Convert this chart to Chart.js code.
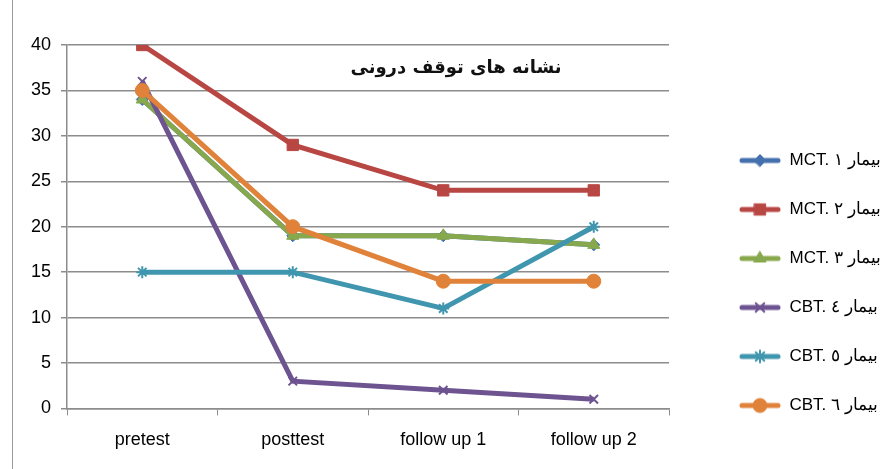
<!DOCTYPE html>
<html lang="en">
<head>
  <meta charset="UTF-8">
  <title>نشانه های توقف درونی</title>
  <script src="https://cdn.jsdelivr.net/npm/chart.js"></script>
  <style>
    html, body { margin: 0; padding: 0; background: #fff; }
    .wrap { position: relative; width: 890px; height: 469px; }
    .frame-line { position: absolute; left: 12px; top: 0; width: 1px; height: 469px; background: #9a9a9a; }
    .chart-title {
      position: absolute; left: 256px; width: 400px; top: 56px;
      text-align: center; font: bold 18px "DejaVu Sans", sans-serif; color: #111;
      direction: rtl; white-space: nowrap;
    }
  </style>
</head>
<body>
  <div class="wrap">
    <div class="frame-line"></div>
    <canvas id="chart" width="890" height="469"></canvas>
    <div class="chart-title">نشانه های توقف درونی</div>
  </div>

  <script>
    // Data
    const stages = ['pretest', 'posttest', 'follow up 1', 'follow up 2'];
    const seriesNames = ['MCT. بیمار ١', 'MCT. بیمار ٢', 'MCT. بیمار ٣', 'CBT. بیمار ٤', 'CBT. بیمار ٥', 'CBT. بیمار ٦'];
    const patient1 = [34, 19, 19, 18];
    const patient2 = [40, 29, 24, 24];
    const patient3 = [34, 19, 19, 18];
    const patient4 = [36, 3, 2, 1];
    const patient5 = [15, 15, 11, 20];
    const patient6 = [35, 20, 14, 14];
    const yTicks = [0, 5, 10, 15, 20, 25, 30, 35, 40];

    // Styles
    const colors = ['#4471AE', '#B84744', '#88A84D', '#6D5390', '#3F96AE', '#E0823A'];
    const markers = ['rectRot', 'rect', 'triangle', 'crossRot', 'star', 'circle'];
    const radii = [6, 8, 7, 6, 6, 7];
    const allData = [patient1, patient2, patient3, patient4, patient5, patient6];

    const datasets = allData.map((d, i) => ({
      label: seriesNames[i],
      data: d,
      borderColor: colors[i],
      backgroundColor: colors[i],
      borderWidth: 5,
      pointStyle: markers[i],
      pointRadius: radii[i],
      pointBorderWidth: (markers[i] === 'crossRot' || markers[i] === 'star') ? 2 : 1,
      pointBorderColor: colors[i],
      pointBackgroundColor: colors[i],
      tension: 0,
      order: allData.length - i
    }));

    // legend icons: short line with the marker in the middle (left part kept empty as a gap)
    const iconGap = 38;
    function legendIcon(i) {
      const c = document.createElement('canvas');
      c.width = iconGap + 42; c.height = 18;
      const ctx = c.getContext('2d');
      ctx.strokeStyle = colors[i];
      ctx.lineWidth = 5;
      ctx.lineCap = 'round';
      ctx.beginPath(); ctx.moveTo(iconGap + 3, 9); ctx.lineTo(iconGap + 39, 9); ctx.stroke();
      ctx.fillStyle = colors[i];
      ctx.lineWidth = (markers[i] === 'crossRot' || markers[i] === 'star') ? 2 : 1;
      Chart.helpers.drawPoint(ctx, { pointStyle: markers[i], radius: radii[i], rotation: 0, borderWidth: ctx.lineWidth }, iconGap + 21, 9);
      return c;
    }
    const icons = colors.map((_, i) => legendIcon(i));

    const tickFont = { family: '"Liberation Sans", sans-serif', size: 18 };

    new Chart(document.getElementById('chart'), {
      type: 'line',
      data: { labels: stages, datasets: datasets },
      options: {
        responsive: false,
        animation: false,
        layout: { padding: { left: 21, top: 45, right: 0, bottom: 4 } },
        scales: {
          x: {
            offset: true,
            grid: { offset: true, drawOnChartArea: false, color: '#8c8c8c', tickLength: 7 },
            border: { color: '#8c8c8c', width: 1.5 },
            ticks: { color: '#000', font: tickFont, padding: 14, maxRotation: 0 }
          },
          y: {
            min: 0, max: 40,
            afterBuildTicks: (axis) => { axis.ticks = yTicks.map(v => ({ value: v })); },
            grid: { color: '#8c8c8c', lineWidth: 1.5, tickLength: 6 },
            border: { color: '#8c8c8c', width: 1.5 },
            ticks: { color: '#000', font: tickFont, padding: 10 }
          }
        },
        plugins: {
          title: { display: false },
          tooltip: { enabled: false },
          legend: {
            position: 'right',
            align: 'start',
            maxWidth: 221,
            title: { display: true, text: ' ', font: { size: 10 }, padding: { top: 63, bottom: 0 } },
            labels: {
              usePointStyle: true,
              pointStyleWidth: iconGap + 42,
              padding: 32,
              color: '#000',
              font: { family: '"Liberation Sans", sans-serif', size: 17 },
              sort: (a, b) => a.datasetIndex - b.datasetIndex,
              generateLabels: (chart) => {
                const items = Chart.defaults.plugins.legend.labels.generateLabels(chart);
                items.forEach(it => { it.pointStyle = icons[it.datasetIndex]; it.lineWidth = 0; });
                return items;
              }
            }
          }
        }
      }
    });
  </script>
</body>
</html>
